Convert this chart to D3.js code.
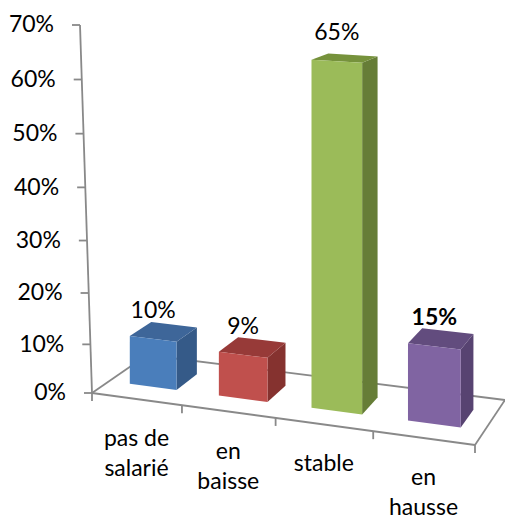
<!DOCTYPE html>
<html lang="fr">
  <head>
    <meta charset="UTF-8" />
    <title>Chart</title>
    <style>
      body { margin: 0; background: #fff; }
      text { font-family: Lato, "Open Sans", sans-serif; font-size: 23px; fill: #000; }
    </style>
  </head>
  <body>
    <svg id="svg" width="505" height="521"></svg>

    <script src="https://cdn.jsdelivr.net/npm/d3@7"></script>
    <script>
      const categories = ["pas de\nsalarié", "en\nbaisse", "stable", "en\nhausse"];
      const values = [0.10, 0.09, 0.65, 0.15];
      const valueLabels = ["10%", "9%", "65%", "15%"];
      const boldLabels = [false, false, false, true];
      const tickValues = [0, 0.1, 0.2, 0.3, 0.4, 0.5, 0.6, 0.7];

      const COLORS = [
        { front: "#4a7ebb", top: "#3e6699", side: "#355a88" },
        { front: "#c0504d", top: "#973a38", side: "#85322f" },
        { front: "#9bbb59", top: "#76923c", side: "#667d37" },
        { front: "#8064a2", top: "#624c7e", side: "#574371" },
      ];
      const GRID = "#898989";

      // floor corners on screen: front-left, front-right, back-right, back-left
      const FLOOR = [[92, 393], [475, 445], [505, 400], [147, 355]];
      const BAR_DEPTH = [0.3, 0.7];

      // square -> quad homography
      function quadMap(p) {
        const [[x0, y0], [x1, y1], [x2, y2], [x3, y3]] = p;
        const sx = x0 - x1 + x2 - x3, sy = y0 - y1 + y2 - y3;
        const dx1 = x1 - x2, dx2 = x3 - x2, dy1 = y1 - y2, dy2 = y3 - y2;
        const den = dx1 * dy2 - dx2 * dy1;
        const g = (sx * dy2 - dx2 * sy) / den;
        const h = (dx1 * sy - sx * dy1) / den;
        const a = x1 - x0 + g * x1, b = x3 - x0 + h * x3, c = x0;
        const d = y1 - y0 + g * y1, e = y3 - y0 + h * y3, f = y0;
        return (u, v, lift = 0) => {
          const w = g * u + h * v + 1;
          return [(a * u + b * v + c) / w, (d * u + e * v + f - lift) / w];
        };
      }
      const proj = quadMap(FLOOR);

      const xBand = d3
        .scaleBand()
        .domain(categories)
        .range([0, 1])
        .paddingInner(0.47)
        .paddingOuter(0.235);
      const hScale = d3.scalePow().exponent(1.04).domain([0, 0.7]).range([0, 368]);

      const yAxis = d3.scalePow().exponent(1.04).domain([0, 0.7]).range([393, 25]);
      const axisLean = d3.scaleLinear().domain([0, 0.7]).range([92, 80]);

      const svg = d3.select("#svg");
      const line = (a, b) =>
        svg.append("line")
          .attr("x1", a[0]).attr("y1", a[1]).attr("x2", b[0]).attr("y2", b[1])
          .attr("stroke", GRID).attr("stroke-width", 1.8);

      // floor
      const floorPts = [proj(0, 0), proj(1, 0), proj(1, 1), proj(0, 1)];
      floorPts.forEach((p, i) => line(p, floorPts[(i + 1) % 4]));
      [0, 1, 2, 3, 4].forEach((k) => {
        const p = proj(k / 4, 0);
        line(p, [p[0], p[1] + 8]);
      });

      // value axis
      const axisG = svg.append("g");
      axisG.call(
        d3.axisLeft(yAxis)
          .tickValues(tickValues)
          .tickFormat(d3.format(".0%"))
          .tickSize(8)
          .tickPadding(18)
      );
      axisG.attr("font-size", null).attr("font-family", null);
      axisG.select(".domain").remove();
      axisG.selectAll(".tick").attr("transform", (d) => `translate(${axisLean(d)},${yAxis(d)})`);
      axisG.selectAll(".tick line").attr("stroke", GRID).attr("stroke-width", 1.8);
      axisG.selectAll(".tick text").attr("fill", "#000");
      line([axisLean(0), yAxis(0)], [axisLean(0.7), yAxis(0.7)]);

      // bars
      const bars = categories.map((c, i) => {
        const u0 = xBand(c), u1 = xBand(c) + xBand.bandwidth();
        const [v0, v1] = BAR_DEPTH;
        const lift = hScale(values[i]);
        return {
          i,
          fbl: proj(u0, v0), fbr: proj(u1, v0),
          ftl: proj(u0, v0, lift), ftr: proj(u1, v0, lift),
          bbr: proj(u1, v1), btr: proj(u1, v1, lift), btl: proj(u0, v1, lift),
        };
      });
      const poly = (pts) => pts.map((p) => p.join(",")).join(" ");
      const barG = svg.append("g").selectAll("g").data(bars).enter().append("g");
      barG.append("polygon")
        .attr("points", (b) => poly([b.fbr, b.bbr, b.btr, b.ftr]))
        .attr("fill", (b) => COLORS[b.i].side);
      barG.append("polygon")
        .attr("points", (b) => poly([b.ftl, b.ftr, b.btr, b.btl]))
        .attr("fill", (b) => COLORS[b.i].top);
      barG.append("polygon")
        .attr("points", (b) => poly([b.fbl, b.fbr, b.ftr, b.ftl]))
        .attr("fill", (b) => COLORS[b.i].front);

      // data labels
      barG.append("text")
        .attr("x", (b) => (b.ftl[0] + b.ftr[0]) / 2)
        .attr("y", (b) => (b.ftl[1] + b.ftr[1]) / 2 - 21)
        .attr("text-anchor", "middle")
        .attr("font-weight", (b) => (boldLabels[b.i] ? "bold" : null))
        .text((b) => valueLabels[b.i]);

      // category labels
      categories.forEach((c) => {
        const p = proj(xBand(c) + xBand.bandwidth() / 2, 0);
        const t = svg.append("text").attr("text-anchor", "middle");
        c.split("\n").forEach((s, k) => {
          t.append("tspan").attr("x", p[0]).attr("y", p[1] + 47 + k * 30).text(s);
        });
      });
    </script>
  </body>
</html>
